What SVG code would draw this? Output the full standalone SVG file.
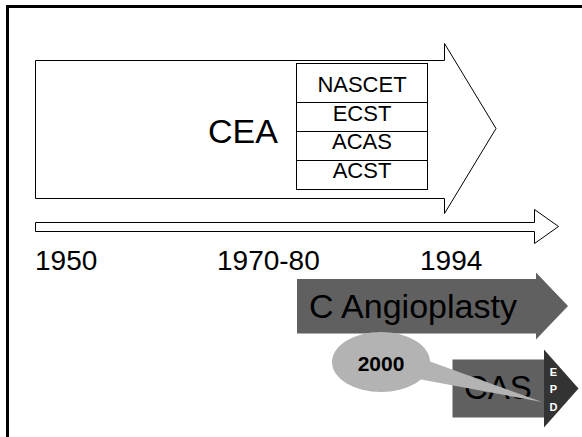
<svg xmlns="http://www.w3.org/2000/svg" width="582" height="437" viewBox="0 0 582 437">
<style>
text{font-family:"Liberation Sans",Arial,sans-serif;fill:#000}
.out{fill:#fff;stroke:#000;stroke-width:1}
.dark{fill:#606060;stroke:none}
.tbl{fill:#fff;stroke:#000;stroke-width:1}
.t22{font-size:22px;text-anchor:middle}
.yr{font-size:28px}
.epd{font-size:11px;font-weight:bold;fill:#fff;text-anchor:middle}
</style>
<rect x="0" y="0" width="582" height="437" fill="#fff"/>
<rect id="frame" x="7.5" y="6.5" width="600" height="460" fill="none" stroke="#000" stroke-width="3"/>
<g id="cea">
<polygon class="out" points="35.5,60.5 444.5,60.5 444.5,43.5 496,128.5 444.5,213.5 444.5,198.5 35.5,198.5"/>
<text x="208" y="142.7" font-size="34">CEA</text>
</g>
<g id="trials">
<rect class="tbl" x="296.5" y="63.5" width="131" height="126"/>
<line x1="296.5" y1="102.5" x2="427.5" y2="102.5" stroke="#000"/>
<line x1="296.5" y1="131.5" x2="427.5" y2="131.5" stroke="#000"/>
<line x1="296.5" y1="160.5" x2="427.5" y2="160.5" stroke="#000"/>
<text class="t22" x="362" y="91.7">NASCET</text>
<text class="t22" x="362" y="120.7">ECST</text>
<text class="t22" x="362" y="149">ACAS</text>
<text class="t22" x="362" y="178.3">ACST</text>
</g>
<g id="timeline">
<polygon class="out" points="35.5,222.5 534.5,222.5 534.5,209.5 558.5,226.5 534.5,243.5 534.5,231.5 35.5,231.5"/>
<text class="yr" x="35" y="269.5">1950</text>
<text class="yr" x="217" y="269.5">1970-80</text>
<text class="yr" x="420" y="269.5">1994</text>
</g>
<g id="angioplasty">
<polygon class="dark" points="297,279 536,279 536,272.5 568,306 536,339.5 536,333.5 297,333.5"/>
<text x="309" y="318.3" font-size="34" fill="#111">C Angioplasty</text>
</g>
<g id="cas">
<rect class="dark" x="452.5" y="359.5" width="92" height="58"/>
<text x="464" y="398.5" font-size="33" fill="#111">CAS</text>
<polygon points="544,349.5 578.5,388.5 544,427.5" fill="#333"/>
<text class="epd" x="553.5" y="376">E</text>
<text class="epd" x="553.5" y="393">P</text>
<text class="epd" x="553.5" y="410.5">D</text>
</g>
<g id="callout">
<path d="M428,360.7 L542,402 L421,379.6 Z" fill="#b3b3b3"/>
<ellipse cx="381" cy="362" rx="49" ry="30" fill="#b3b3b3"/>
<text x="381" y="370.7" font-size="21" font-weight="bold" text-anchor="middle">2000</text>
</g>
</svg>
